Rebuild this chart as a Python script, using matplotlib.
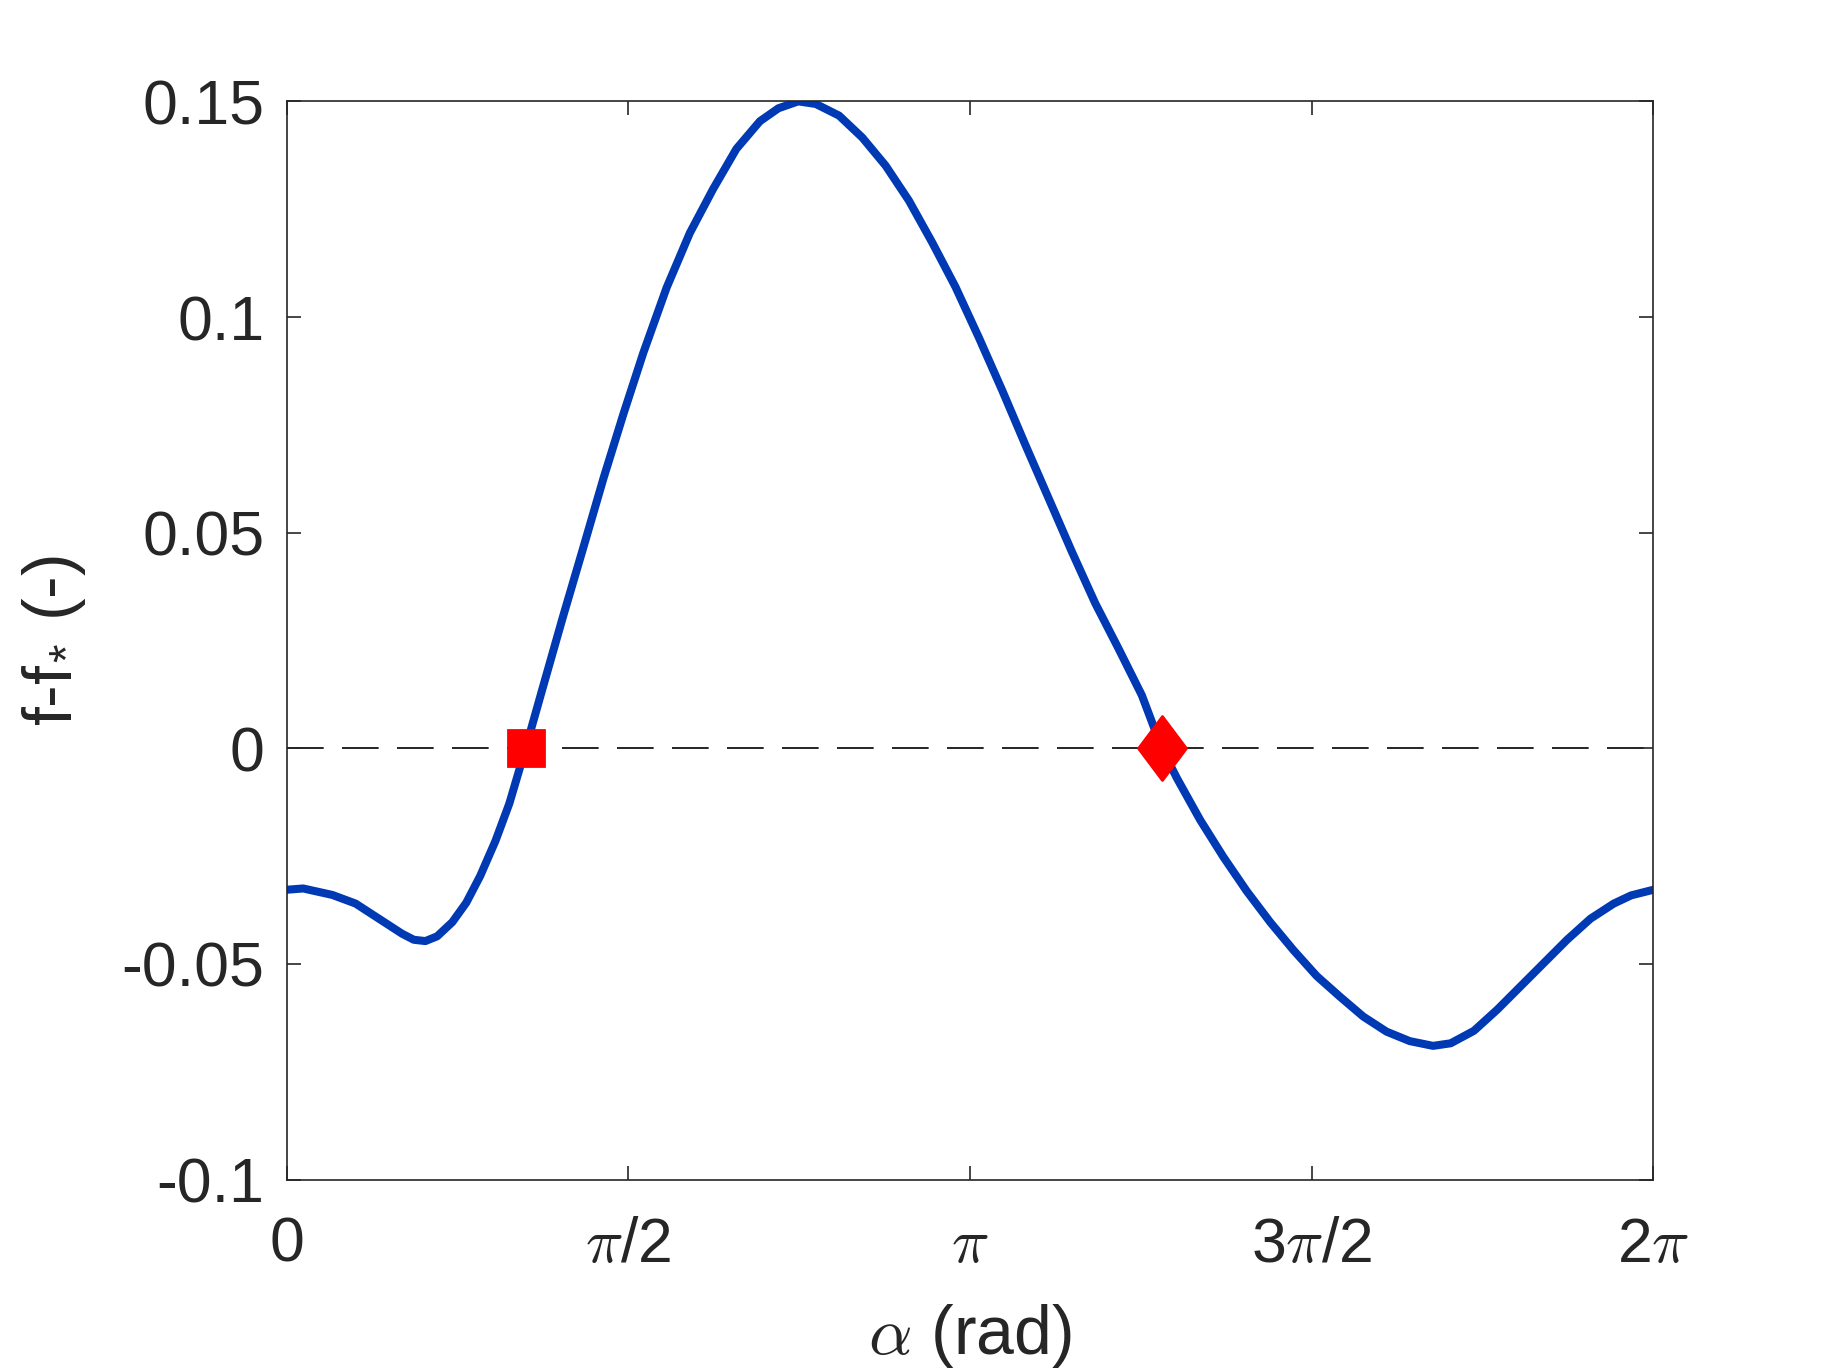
import matplotlib.pyplot as plt
import numpy as np
from matplotlib.path import Path

# values
alpha = [0.0, 0.075, 0.209, 0.316, 0.423, 0.530, 0.584, 0.637, 0.691, 0.761,
         0.825, 0.889, 0.959, 1.023, 1.098, 1.173, 1.269, 1.360, 1.457, 1.548,
         1.639, 1.746, 1.853, 1.960, 2.067, 2.175, 2.260, 2.351, 2.432, 2.539,
         2.646, 2.753, 2.860, 2.967, 3.074, 3.182, 3.289, 3.396, 3.503, 3.610,
         3.717, 3.824, 3.931, 4.023, 4.092, 4.199, 4.306, 4.413, 4.521, 4.628,
         4.735, 4.842, 4.949, 5.056, 5.163, 5.270, 5.351, 5.458, 5.565, 5.672,
         5.779, 5.886, 5.994, 6.101, 6.181, 6.283]
df = [-0.0328, -0.0325, -0.0340, -0.0360, -0.0395, -0.0430, -0.0444, -0.0447,
      -0.0436, -0.0403, -0.0358, -0.0296, -0.0215, -0.0128, 0.0, 0.0134,
      0.0304, 0.0460, 0.0628, 0.0776, 0.0917, 0.1068, 0.1195, 0.1297, 0.1390,
      0.1454, 0.1484, 0.1500, 0.1494, 0.1467, 0.1416, 0.1351, 0.1270, 0.1173,
      0.1070, 0.0952, 0.0830, 0.0703, 0.0579, 0.0455, 0.0336, 0.0231, 0.0123,
      0.0, -0.0069, -0.0166, -0.0252, -0.0331, -0.0403, -0.0468, -0.0528,
      -0.0576, -0.0622, -0.0657, -0.0679, -0.0690, -0.0684, -0.0655, -0.0606,
      -0.0552, -0.0498, -0.0444, -0.0395, -0.0360, -0.0341, -0.0328]

# zero crossings
sq_alpha, sq_val = 1.098, 0.0
dm_alpha, dm_val = 4.023, 0.0

xticks = [0, np.pi / 2, np.pi, 3 * np.pi / 2, 2 * np.pi]
xticklabels = ['0', r'$\pi$/2', r'$\pi$', r'3$\pi$/2', r'2$\pi$']
yticks = [-0.1, -0.05, 0, 0.05, 0.1, 0.15]
yticklabels = ['-0.1', '-0.05', '0', '0.05', '0.1', '0.15']

plt.rcParams['font.family'] = ['Liberation Sans', 'DejaVu Sans']
plt.rcParams['mathtext.fontset'] = 'cm'
dark = '#262626'

fig = plt.figure(figsize=(9.135, 6.85), dpi=200)
ax = fig.add_axes([0.157, 0.139, 0.748, 0.787])

ax.plot(alpha, df, color='#0039B4', linewidth=2.9, zorder=2)
ax.axhline(0, color='black', linewidth=0.6, dashes=(22, 11), zorder=1)

ax.plot(sq_alpha, sq_val, marker='s', color='red', markersize=13, linestyle='none', zorder=3)
diamond = Path([(0, 1), (0.75, 0), (0, -1), (-0.75, 0), (0, 1)],
               [Path.MOVETO, Path.LINETO, Path.LINETO, Path.LINETO, Path.CLOSEPOLY])
ax.plot(dm_alpha, dm_val, marker=diamond, color='red', markersize=23, linestyle='none', zorder=3)

ax.set_xlim(0, 2 * np.pi)
ax.set_ylim(-0.1, 0.15)
ax.set_xticks(xticks)
ax.set_xticklabels(xticklabels)
ax.set_yticks(yticks)
ax.set_yticklabels(yticklabels)
ax.tick_params(direction='in', length=5, width=0.6, colors=dark, labelsize=22.5,
               top=True, right=True, pad=8)
ax.tick_params(axis='x', pad=13)
for s in ax.spines.values():
    s.set_color(dark)
    s.set_linewidth(0.6)

ax.set_xlabel(r'$\alpha$ (rad)', fontsize=24.5, color=dark, labelpad=10)
ax.set_ylabel(r'f-f$_{\mathregular{*}}$ (-)', fontsize=24.5, color=dark, labelpad=12)

plt.savefig('out.png', dpi=200)
